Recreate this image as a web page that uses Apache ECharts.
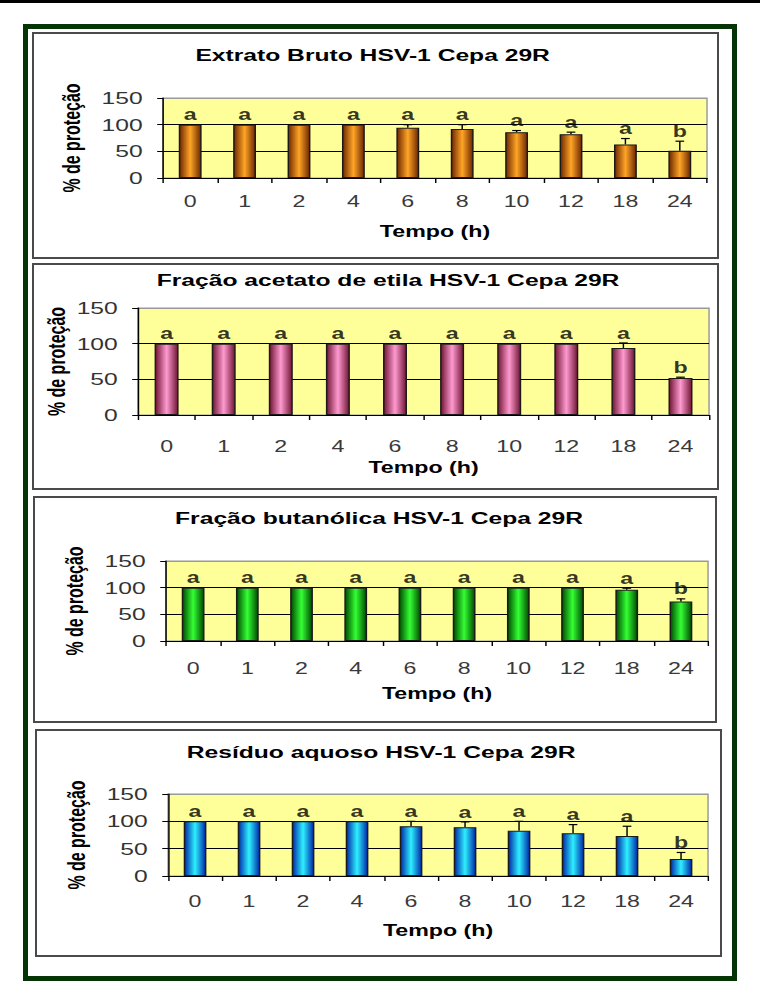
<!DOCTYPE html>
<html lang="pt">
<head>
<meta charset="utf-8">
<title>% de proteção HSV-1 Cepa 29R</title>
<script src="https://cdn.jsdelivr.net/npm/echarts@6.0.0/dist/echarts.min.js"></script>
<style>
  html, body { margin: 0; padding: 0; background: #fff; }
  body { width: 760px; height: 981px; position: relative; overflow: hidden; }
  .topline { position: absolute; left: 0; top: 0; width: 760px; height: 3px; background: #000; }
  .frame { position: absolute; left: 23px; top: 24px; width: 714px; height: 957px; box-sizing: border-box; border: 5px solid #053505; }
  .panel { position: absolute; box-sizing: border-box; border: 2px solid #4a4a4a; background: #fff; }
  /* the original picture is stretched sideways, so the chart is drawn narrow and widened */
  #chart { position: absolute; left: 0; top: 0; width: 524px; height: 981px; transform: scaleX(1.45); transform-origin: 0 0; }
</style>
</head>
<body>
<div class="topline"></div>
<div class="frame"></div>
<div class="panel" style="left:32px;top:32px;width:687px;height:227px"></div>
<div class="panel" style="left:32px;top:263px;width:687px;height:227px"></div>
<div class="panel" style="left:33px;top:496px;width:684px;height:227px"></div>
<div class="panel" style="left:35px;top:729px;width:687px;height:228px"></div>
<div id="chart"></div>

<script>
  // categorias (horas) e letras de significância
  var hours = ['0', '1', '2', '4', '6', '8', '10', '12', '18', '24'];
  var letters = ['a', 'a', 'a', 'a', 'a', 'a', 'a', 'a', 'a', 'b'];
  var yMin = 0, yMax = 150, yStep = 50;

  var titles = [
    'Extrato Bruto HSV-1 Cepa 29R',
    'Fração acetato de etila HSV-1 Cepa 29R',
    'Fração butanólica HSV-1 Cepa 29R',
    'Resíduo aquoso HSV-1 Cepa 29R'
  ];

  // % de proteção (média) e desvio (só a parte de cima aparece)
  var brutoMean = [100, 100, 100, 100, 94, 92, 86, 82, 63, 51];
  var brutoErr = [0, 0, 0, 0, 6, 8, 3, 4, 11, 18];
  var acetatoMean = [100, 100, 100, 100, 100, 100, 100, 100, 94, 52];
  var acetatoErr = [0, 0, 0, 0, 0, 0, 0, 0, 7, 1];
  var butanolMean = [100, 100, 100, 100, 100, 100, 100, 100, 96, 74];
  var butanolErr = [0, 0, 0, 0, 0, 0, 0, 0, 3, 5];
  var aquosoMean = [100, 100, 100, 100, 91, 89, 83, 78, 73, 31];
  var aquosoErr = [0, 0, 0, 0, 9, 10, 17, 16, 18, 12];

  var means = [brutoMean, acetatoMean, butanolMean, aquosoMean];
  var errs = [brutoErr, acetatoErr, butanolErr, aquosoErr];

  // layout (x in narrow chart units, y in page px)
  var layout = [
    { left: 112.4, width: 375.2, top: 98, height: 80, titleX: 257, titleY: 55, yGap: 55, xMargin: 15, xGap: 45, edge: '#6e2700', mid: '#ffa526' },
    { left: 95.2, width: 393.8, top: 308, height: 107, titleX: 267.6, titleY: 280, yGap: 48, xMargin: 23, xGap: 44, edge: '#701434', mid: '#ff9ad0' },
    { left: 114.5, width: 373.8, top: 561, height: 80, titleX: 261.4, titleY: 518, yGap: 55, xMargin: 19, xGap: 44, edge: '#004a00', mid: '#33ff33' },
    { left: 115.9, width: 372.4, top: 794, height: 82, titleX: 262.8, titleY: 752, yGap: 55, xMargin: 17, xGap: 46, edge: '#0028a8', mid: '#2ef0ff' }
  ];

  var FONT = '"Liberation Sans", Arial, sans-serif';

  function renderErr(params, api) {
    var base = api.coord([api.value(0), api.value(1)]);
    var top = api.coord([api.value(0), api.value(2)]);
    if (api.value(2) <= api.value(1)) return null;
    var half = 3;
    return {
      type: 'group',
      children: [
        { type: 'line', shape: { x1: base[0], y1: base[1], x2: top[0], y2: top[1] }, style: { stroke: '#000', lineWidth: 1 } },
        { type: 'line', shape: { x1: top[0] - half, y1: top[1], x2: top[0] + half, y2: top[1] }, style: { stroke: '#000', lineWidth: 1.2 } }
      ]
    };
  }

  var grids = [], xAxes = [], yAxes = [], series = [], graphics = [];

  layout.forEach(function (p, i) {
    var mean = means[i], err = errs[i];

    grids.push({
      left: p.left, top: p.top, width: p.width, height: p.height,
      show: true, backgroundColor: '#ffff99', borderColor: '#999', borderWidth: 1,
      outerBoundsMode: 'none'
    });

    xAxes.push({
      type: 'category', gridIndex: i, data: hours,
      name: 'Tempo (h)', nameLocation: 'middle', nameGap: p.xGap, nameMoveOverlap: false,
      nameTextStyle: { fontFamily: FONT, fontWeight: 'bold', fontSize: 16, color: '#000' },
      axisLine: { show: true, lineStyle: { color: '#000', width: 1 } },
      axisTick: { show: true, length: 5, lineStyle: { color: '#000' } },
      axisLabel: { fontFamily: FONT, fontSize: 16, color: '#3a3a3a', margin: p.xMargin },
      splitLine: { show: false }
    });

    yAxes.push({
      type: 'value', gridIndex: i, min: yMin, max: yMax, interval: yStep,
      name: '% de proteção', nameLocation: 'middle', nameGap: p.yGap, nameMoveOverlap: false,
      nameTextStyle: { fontFamily: FONT, fontWeight: 'bold', fontSize: 16, color: '#000' },
      axisLine: { show: true, lineStyle: { color: '#000', width: 1 } },
      axisTick: { show: true, length: 4, lineStyle: { color: '#000' } },
      axisLabel: { fontFamily: FONT, fontSize: 17, color: '#333', margin: 14 },
      splitLine: { show: true, lineStyle: { color: ['#000', '#000', '#000', '#999'], width: 1 } }
    });

    series.push({
      type: 'bar', xAxisIndex: i, yAxisIndex: i, data: mean, barWidth: '42%', z: 2,
      itemStyle: {
        borderColor: '#1a1a1a', borderWidth: 1,
        color: {
          type: 'linear', x: 0, y: 0, x2: 1, y2: 0,
          colorStops: [
            { offset: 0, color: p.edge },
            { offset: 0.5, color: p.mid },
            { offset: 1, color: p.edge }
          ]
        }
      }
    });

    series.push({
      type: 'custom', xAxisIndex: i, yAxisIndex: i, z: 3,
      renderItem: renderErr,
      encode: { x: 0, y: 2 },
      data: mean.map(function (m, j) { return [j, m, m + err[j]]; })
    });

    series.push({
      type: 'scatter', xAxisIndex: i, yAxisIndex: i, z: 4, silent: true,
      symbolSize: 0,
      data: mean.map(function (m, j) { return [j, m + err[j]]; }),
      label: {
        show: true, position: 'top', distance: 2,
        formatter: function (q) { return letters[q.dataIndex]; },
        fontFamily: FONT, fontWeight: 'bold', fontSize: 16, color: '#000'
      }
    });

    graphics.push({
      type: 'text', x: p.titleX, y: p.titleY,
      style: {
        text: titles[i], fill: '#000',
        font: 'bold 17px ' + FONT,
        align: 'center', verticalAlign: 'middle'
      }
    });
  });

  var chart = echarts.init(document.getElementById('chart'), null, { renderer: 'svg' });
  chart.setOption({
    animation: false,
    grid: grids,
    xAxis: xAxes,
    yAxis: yAxes,
    series: series,
    graphic: graphics
  });
</script>
</body>
</html>
